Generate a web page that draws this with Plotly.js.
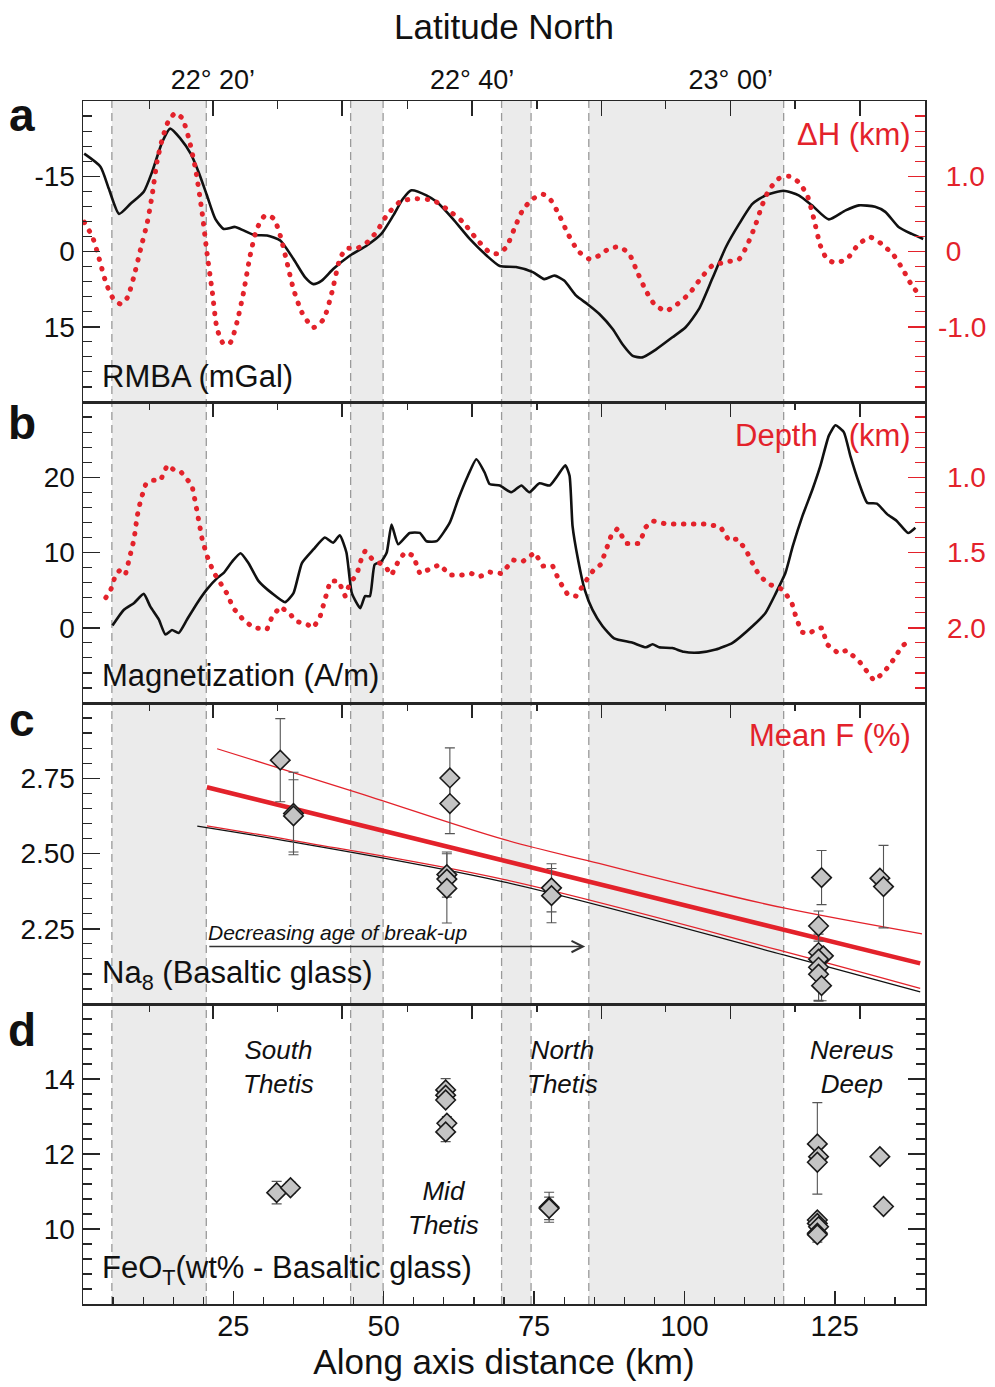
<!DOCTYPE html>
<html>
<head>
<meta charset="utf-8">
<script src="https://cdn.plot.ly/plotly-3.0.1.min.js"></script>
<style>
  html, body { margin: 0; padding: 0; background: #ffffff; }
  #chart { width: 995px; height: 1387px; }
</style>
</head>
<body>
<div id="chart"></div>
<script>
// ---------- Along-axis profiles (distance in km) ----------
const rmbaKm = [0.2, 2.9, 4.3, 6.0, 7.9, 10.1, 11.5, 13.2, 14.5, 16.2,
  17.9, 19.2, 20.6, 22.0, 23.4, 25.3, 26.7, 28.4, 30.6, 32.8,
  35.0, 36.9, 38.3, 39.7, 41.6, 44.4, 47.2, 49.6, 51.6, 53.2,
  54.6, 57.1, 58.8, 61.5, 64.3, 67.1, 69.3, 72.0, 74.8, 76.7,
  78.4, 80.0, 82.0, 83.9, 85.9, 88.1, 89.7, 91.4, 93.0, 95.3,
  98.0, 100.2, 102.4, 104.6, 106.9, 109.1, 111.3, 113.5, 116.5, 119.0,
  121.2, 124.0, 126.8, 129.0, 131.7, 133.4, 135.6, 137.8, 139.7];
const rmba = [-19.5, -16.9, -12.5, -7.5, -9.5, -11.9, -15.9, -21.9, -24.5, -22.5,
  -19.5, -15.9, -11.2, -6.5, -4.5, -4.9, -4.2, -3.3, -3.2, -2.2,
  1.5, 5.1, 6.5, 5.8, 3.5, 0.8, -1.2, -3.5, -7.2, -10.5,
  -12.2, -11.2, -9.9, -6.5, -2.5, 0.8, 2.9, 3.1, 4.1, 5.5,
  4.8, 5.8, 8.8, 10.5, 12.5, 15.5, 18.5, 20.8, 21.1, 19.5,
  17.1, 15.1, 11.5, 5.5, -0.9, -5.5, -9.5, -11.2, -12.1, -11.2,
  -9.2, -6.4, -8.2, -9.2, -8.9, -7.9, -4.9, -3.5, -2.5];

const dhKm = [0.2, 1.6, 2.7, 3.8, 4.9, 6.3, 7.4, 8.5, 9.6, 10.7,
  11.5, 12.3, 13.2, 14.3, 15.4, 16.5, 17.6, 18.7, 19.8, 20.6,
  21.5, 22.3, 23.4, 24.5, 25.6, 26.7, 27.8, 28.9, 30.3, 31.7,
  32.8, 33.9, 35.0, 36.4, 38.3, 40.0, 41.4, 42.7, 43.8, 45.5,
  47.2, 48.8, 50.5, 52.7, 54.9, 58.2, 60.4, 63.2, 65.4, 67.6,
  69.0, 70.4, 71.8, 73.1, 74.8, 76.5, 77.8, 79.2, 80.6, 82.3,
  84.2, 85.9, 87.5, 89.2, 90.8, 92.2, 93.6, 95.0, 96.9, 98.8,
  100.8, 102.7, 104.6, 106.9, 109.1, 110.4, 111.8, 112.9, 114.0, 115.7,
  117.4, 119.0, 120.4, 121.5, 122.6, 123.7, 125.1, 127.0, 129.0, 130.9,
  132.8, 134.8, 136.4, 137.8, 138.9];
const dh = [0.39, 0.19, -0.10, -0.41, -0.61, -0.70, -0.61, -0.32, 0.04, 0.39,
  0.75, 1.19, 1.50, 1.75, 1.84, 1.77, 1.50, 1.10, 0.52, -0.01,
  -0.54, -1.03, -1.23, -1.21, -0.94, -0.54, -0.05, 0.30, 0.48, 0.44,
  0.21, -0.14, -0.50, -0.81, -1.01, -0.90, -0.54, -0.10, 0.04, 0.04,
  0.12, 0.26, 0.48, 0.66, 0.70, 0.68, 0.57, 0.39, 0.17, -0.01,
  -0.03, 0.06, 0.32, 0.55, 0.70, 0.76, 0.68, 0.48, 0.24, 0.01,
  -0.10, -0.05, 0.04, 0.06, -0.03, -0.28, -0.52, -0.70, -0.79, -0.70,
  -0.56, -0.36, -0.19, -0.14, -0.10, 0.08, 0.35, 0.61, 0.81, 0.97,
  1.00, 0.92, 0.75, 0.44, 0.08, -0.10, -0.15, -0.10, 0.10, 0.19,
  0.10, -0.05, -0.25, -0.45, -0.56];

const magKm = [4.9, 6.8, 8.5, 10.1, 11.2, 12.6, 13.7, 14.8, 15.9, 17.3,
  19.0, 20.6, 22.3, 23.4, 24.8, 26.2, 27.5, 29.2, 31.4, 33.6,
  35.0, 36.4, 38.3, 40.2, 41.6, 42.7, 43.8, 44.7, 46.1, 46.9,
  47.7, 48.5, 49.6, 50.5, 51.3, 52.4, 54.3, 56.0, 57.1, 58.8,
  61.0, 62.4, 64.0, 65.4, 66.8, 67.6, 69.3, 71.2, 72.9, 74.2,
  75.9, 77.6, 78.9, 80.2, 80.9, 81.4, 82.3, 83.4, 84.7, 86.4,
  88.3, 91.4, 93.6, 94.7, 95.8, 98.0, 99.9, 102.4, 105.2, 108.0,
  111.3, 113.5, 115.2, 116.8, 118.0, 119.6, 121.3, 122.6, 124.0, 125.1,
  126.5, 127.6, 129.0, 130.4, 132.0, 133.7, 135.3, 137.2, 138.4];
const mag = [0.3, 2.4, 3.3, 4.5, 2.8, 1.1, -0.9, -0.3, -0.7, 1.1,
  3.3, 5.1, 6.6, 7.3, 8.8, 9.9, 8.6, 6.2, 4.6, 3.4,
  4.6, 8.6, 10.4, 12.0, 11.3, 12.3, 10.0, 4.6, 2.6, 4.2,
  4.2, 8.4, 8.8, 10.0, 13.7, 11.1, 12.6, 12.6, 11.5, 11.5,
  14.0, 17.1, 20.2, 22.4, 20.6, 19.1, 18.9, 18.0, 18.9, 18.0,
  19.2, 18.9, 20.2, 21.6, 20.2, 13.5, 9.1, 5.1, 2.4, 0.2,
  -1.4, -2.0, -2.6, -2.2, -2.6, -2.7, -3.2, -3.3, -2.9, -2.0,
  0.2, 2.0, 4.6, 7.3, 10.8, 14.8, 18.4, 21.5, 25.5, 26.9,
  26.0, 22.8, 19.3, 16.6, 16.5, 15.1, 14.2, 12.6, 13.3];

const depthKm = [3.8, 4.6, 5.4, 6.3, 7.1, 7.9, 8.5, 9.0, 9.6, 10.4,
  11.5, 12.9, 14.0, 15.1, 16.2, 17.2, 18.1, 18.7, 19.2, 19.8,
  20.6, 21.7, 22.8, 23.9, 25.0, 26.7, 28.4, 30.6, 31.4, 32.8,
  34.2, 35.6, 36.9, 38.3, 39.4, 40.2, 41.1, 42.5, 43.6, 44.4,
  45.5, 46.3, 46.9, 48.0, 49.4, 50.2, 51.3, 52.4, 53.5, 54.9,
  56.0, 57.7, 59.3, 61.0, 62.9, 64.6, 66.0, 67.6, 69.6, 71.5,
  73.1, 75.1, 76.5, 78.1, 79.2, 80.6, 82.0, 83.6, 85.0, 86.1,
  86.9, 87.8, 88.9, 90.3, 92.5, 93.6, 94.7, 96.9, 99.7, 103.5,
  106.0, 107.4, 108.8, 110.2, 111.3, 112.4, 114.0, 116.0, 116.8, 117.9,
  118.7, 119.6, 120.7, 121.8, 122.9, 123.7, 125.6, 127.0, 129.0, 130.6,
  131.5, 133.1, 134.8, 136.2, 137.8];
const depth = [1.80, 1.75, 1.65, 1.61, 1.64, 1.52, 1.41, 1.26, 1.15, 1.05,
  1.02, 1.02, 0.92, 0.95, 0.96, 1.01, 1.05, 1.17, 1.28, 1.41,
  1.52, 1.63, 1.70, 1.77, 1.87, 1.95, 2.00, 2.01, 1.93, 1.86,
  1.90, 1.96, 1.97, 2.00, 1.93, 1.82, 1.69, 1.69, 1.79, 1.70,
  1.65, 1.54, 1.49, 1.54, 1.57, 1.59, 1.65, 1.56, 1.50, 1.52,
  1.64, 1.61, 1.58, 1.65, 1.65, 1.64, 1.66, 1.63, 1.64, 1.55,
  1.56, 1.50, 1.59, 1.59, 1.69, 1.78, 1.79, 1.69, 1.61, 1.58,
  1.48, 1.39, 1.34, 1.44, 1.44, 1.33, 1.29, 1.31, 1.31, 1.31,
  1.33, 1.42, 1.41, 1.48, 1.57, 1.65, 1.71, 1.74, 1.77, 1.84,
  1.95, 2.03, 2.04, 2.01, 2.00, 2.11, 2.17, 2.15, 2.22, 2.31,
  2.35, 2.30, 2.21, 2.12, 2.08];

// ---------- Basaltic glass samples ----------
const na8Km = [32.8, 35.0, 35.0, 61.0, 61.0, 60.5, 60.5, 60.5, 77.9, 77.9,
  122.8, 122.3, 122.3, 123.1, 122.3, 122.3, 122.3, 122.8, 132.5, 133.1];
const na8 = [2.81, 2.633, 2.625, 2.751, 2.666, 2.43, 2.415, 2.384, 2.386, 2.36,
  2.42, 2.259, 2.171, 2.16, 2.149, 2.122, 2.099, 2.061, 2.418, 2.39];
const na8Err = [0.138, 0.137, 0.12, 0.1, 0.1, 0.075, 0, 0.115, 0.08, 0.09,
  0.09, 0.05, 0, 0, 0, 0.11, 0.09, 0.05, 0, 0.137];

// FeO_T: Thetis deeps (South, Mid, North)
const feoThetisKm = [32.2, 34.5, 60.3, 60.3, 60.3, 60.5, 60.3, 77.5, 77.5];
const feoThetis = [10.97, 11.10, 13.71, 13.57, 13.44, 12.82, 12.59, 10.58, 10.55];
const feoThetisErr = [0.3, 0.15, 0.3, 0, 0.1, 0.18, 0.26, 0.4, 0.3];
// FeO_T: Nereus Deep and the northern end
const feoNereusKm = [122.1, 122.3, 122.1, 122.1, 122.1, 122.3, 122.1, 122.1, 132.5, 133.1];
const feoNereus = [12.27, 11.93, 11.78, 10.24, 10.15, 10.06, 9.89, 9.85, 11.93, 10.60];
const feoNereusErrUp = [1.1, 0, 0, 0.13, 0, 0, 0, 0.2, 0, 0];
const feoNereusErrDown = [1.34, 0, 0, 0.13, 0, 0, 0, 0.2, 0, 0];

// Mean-F trend and bounds, expressed on the Na8 scale
const fitKm = [20.6, 139.2];
const fitNa8 = [2.72, 2.135];
const upperKm = [22.3, 46.0, 70.1, 85.8, 100.0, 116.5, 139.5];
const upperNa8 = [2.848, 2.70, 2.546, 2.467, 2.396, 2.319, 2.233];
const lowerKm = [20.6, 35.0, 70.1, 116.5, 139.2];
const lowerNa8 = [2.592, 2.543, 2.413, 2.175, 2.052];
const naTrendKm = [19.0, 35.0, 70.1, 116.5, 139.2];
const naTrend = [2.591, 2.538, 2.405, 2.163, 2.040];

// Break-up age arrow (km along axis, Na8 level)
const arrowKm = [20.5, 83.5];
const arrowNa8 = 2.191;

// ---------- Segments (shaded) and axis labels ----------
const bandStart = [4.8, 44.5, 69.6, 84.1];
const bandEnd = [20.5, 49.9, 74.5, 116.5];

const latTickKm = [21.6, 43.1, 64.7, 86.2, 107.7, 129.2];
const latTickText = ['22° 20’', ' ', '22° 40’', ' ', '23° 00’', ' '];
const latMinorKm = [11.0, 32.4, 53.9, 75.5, 96.9, 118.4];
const distTicks = [25, 50, 75, 100, 125];

// ---------- Styling ----------
const FONT = 'Liberation Sans, Arial, Helvetica, sans-serif';
const RED = '#e3222b';
const INK = '#111111';
const AX = '#262626';
const W = 995, H = 1387;
const M = { l: 83, r: 70, t: 101, b: 83 };
const plotW = W - M.l - M.r, plotH = H - M.t - M.b;
const px2x = p => (p - M.l) / plotW;
const px2y = p => (H - M.b - p) / plotH;

const domA = [px2y(402), 1];
const domB = [px2y(703), px2y(402)];
const domC = [px2y(1004), px2y(703)];
const domD = [0, px2y(1004)];

const base = { showgrid: false, zeroline: false, fixedrange: true, linecolor: AX, linewidth: 1.5 };

function latAxis(anchor, labels) {
  return Object.assign({}, base, {
    domain: [0, 1], range: [0, 140], anchor: anchor, side: 'top',
    showline: true, mirror: true,
    tickmode: 'array', tickvals: latTickKm, ticktext: latTickText,
    ticks: 'inside', ticklen: 15, tickwidth: 1.5, tickcolor: AX,
    showticklabels: labels, tickfont: { size: 27, color: INK },
    minor: { tickmode: 'array', tickvals: latMinorKm, ticks: 'inside', ticklen: 8, tickwidth: 1.2, tickcolor: AX }
  });
}
function leftY(domain, range, vals, text, minorDtick, anchor, mirror) {
  return Object.assign({}, base, {
    domain: domain, range: range, anchor: anchor, side: 'left', showline: true, mirror: mirror,
    tickmode: 'array', tickvals: vals, ticktext: text,
    ticks: 'inside', ticklen: 17, tickwidth: 1.5, tickcolor: AX,
    tickfont: { size: 28, color: INK }, ticklabelstandoff: 1,
    minor: { tickmode: 'linear', tick0: 0, dtick: minorDtick, ticks: 'inside', ticklen: 9, tickwidth: 1.2, tickcolor: AX }
  });
}
function rightY(overlay, anchor, range, vals, text, minorDtick, standoff) {
  return Object.assign({}, base, {
    overlaying: overlay, anchor: anchor, side: 'right', range: range, showline: false,
    tickmode: 'array', tickvals: vals, ticktext: text,
    ticks: 'inside', ticklen: 17, tickwidth: 1.5, tickcolor: RED,
    tickfont: { size: 28, color: RED }, ticklabelstandoff: standoff,
    minor: { tickmode: 'linear', tick0: 0, dtick: minorDtick, ticks: 'inside', ticklen: 10, tickwidth: 1.2, tickcolor: RED }
  });
}

const dotted = { color: RED, width: 5, dash: '0.5px,9.5px' };
const diamond = { symbol: 'diamond', size: 15, color: '#c4c4c4', line: { color: '#1a1a1a', width: 1.6 } };
const errStyle = { type: 'data', color: '#555555', thickness: 1.1, width: 5 };

const traces = [
  // a: RMBA and along-axis relief
  { x: dhKm, y: dh, xaxis: 'x', yaxis: 'y2', mode: 'lines', line: Object.assign({ shape: 'spline', smoothing: 0.6 }, dotted) },
  { x: rmbaKm, y: rmba, xaxis: 'x', yaxis: 'y', mode: 'lines', line: { color: INK, width: 2.6, shape: 'spline', smoothing: 0.6 } },
  // b: magnetization and axial depth
  { x: depthKm, y: depth, xaxis: 'x2', yaxis: 'y4', mode: 'lines', line: dotted },
  { x: magKm, y: mag, xaxis: 'x2', yaxis: 'y3', mode: 'lines', line: { color: INK, width: 2.6, shape: 'spline', smoothing: 0.5 } },
  // c: Na8 trends and samples
  { x: upperKm, y: upperNa8, xaxis: 'x3', yaxis: 'y5', mode: 'lines', line: { color: RED, width: 1.3, shape: 'spline' } },
  { x: lowerKm, y: lowerNa8, xaxis: 'x3', yaxis: 'y5', mode: 'lines', line: { color: RED, width: 1.3, shape: 'spline' } },
  { x: naTrendKm, y: naTrend, xaxis: 'x3', yaxis: 'y5', mode: 'lines', line: { color: INK, width: 1.3, shape: 'spline' } },
  { x: fitKm, y: fitNa8, xaxis: 'x3', yaxis: 'y5', mode: 'lines', line: { color: RED, width: 4.5 } },
  { x: na8Km, y: na8, xaxis: 'x3', yaxis: 'y5', mode: 'markers', marker: diamond,
    error_y: Object.assign({ array: na8Err }, errStyle) },
  // d: FeO samples (Thetis deeps on the latitude axis, Nereus on the distance axis; same scale)
  { x: feoThetisKm, y: feoThetis, xaxis: 'x4', yaxis: 'y7', mode: 'markers', marker: diamond,
    error_y: Object.assign({ array: feoThetisErr }, errStyle) },
  { x: feoNereusKm, y: feoNereus, xaxis: 'x5', yaxis: 'y7', mode: 'markers', marker: diamond,
    error_y: Object.assign({ symmetric: false, array: feoNereusErrUp, arrayminus: feoNereusErrDown }, errStyle) }
];
traces.forEach(t => { t.showlegend = false; t.hoverinfo = 'skip'; });

// Shaded segments with dashed borders across all panels
const shapes = [];
bandStart.forEach((s, i) => {
  shapes.push({ type: 'rect', xref: 'x', yref: 'paper', x0: s, x1: bandEnd[i], y0: 0, y1: 1,
    fillcolor: '#ebebeb', line: { width: 0 }, layer: 'below' });
  [s, bandEnd[i]].forEach(v => shapes.push({ type: 'line', xref: 'x', yref: 'paper', x0: v, x1: v, y0: 0, y1: 1,
    line: { color: '#9a9a9a', width: 1.3, dash: '8px,5px' }, layer: 'below' }));
});

function label(text, xp, yp, opts) {
  return Object.assign({ text: text, xref: 'paper', yref: 'paper', x: px2x(xp), y: px2y(yp),
    showarrow: false, xanchor: 'left', yanchor: 'middle',
    font: { family: FONT, size: 31, color: INK } }, opts || {});
}
const italic = (t, xp, yp) => label(t, xp, yp, { xanchor: 'center', align: 'center',
  font: { family: FONT, size: 26, color: INK, style: 'italic' } });
const letter = (t, yp) => label(t, 22, yp, { xanchor: 'center', font: { family: FONT, size: 46, color: INK, weight: 'bold' } });

const annotations = [
  letter('a', 115), letter('b', 423), letter('c', 720), letter('d', 1030),
  label('RMBA (mGal)', 100, 376),
  label('Magnetization (A/m)', 100, 675),
  label('Na<sub>8</sub> (Basaltic glass)', 100, 975),
  label('FeO<sub>T</sub>(wt% - Basaltic glass)', 100, 1270),
  label('ΔH (km)', 913, 135, { xanchor: 'right', font: { family: FONT, size: 31, color: RED } }),
  label('Depth\u2003(km)', 913, 435, { xanchor: 'right', font: { family: FONT, size: 31, color: RED } }),
  label('Mean F (%)', 913, 735, { xanchor: 'right', font: { family: FONT, size: 31, color: RED } }),
  italic('South<br>Thetis', 278, 1067),
  italic('Mid<br>Thetis', 443, 1208),
  italic('North<br>Thetis', 562, 1067),
  italic('Nereus<br>Deep', 852, 1067),
  { text: 'Decreasing age of break-up', xref: 'x3', yref: 'y5', x: arrowKm[0], y: arrowNa8 + 0.047,
    xanchor: 'left', yanchor: 'middle', showarrow: false,
    font: { family: FONT, size: 21, color: INK, style: 'italic' } },
  { text: ' ', xref: 'x3', yref: 'y5', axref: 'x3', ayref: 'y5',
    x: arrowKm[1], y: arrowNa8, ax: arrowKm[0], ay: arrowNa8,
    showarrow: true, arrowhead: 5, arrowsize: 1.7, arrowwidth: 1.3, arrowcolor: '#333333' }
];

const layout = {
  width: W, height: H, margin: M,
  paper_bgcolor: '#ffffff', plot_bgcolor: 'rgba(0,0,0,0)',
  font: { family: FONT, color: INK },
  showlegend: false, hovermode: false,
  xaxis: Object.assign(latAxis('y', true), {
    title: { text: 'Latitude North', font: { size: 35, color: INK }, standoff: 14 } }),
  xaxis2: latAxis('y3', false),
  xaxis3: latAxis('y5', false),
  xaxis4: latAxis('y7', false),
  xaxis5: Object.assign({}, base, {
    overlaying: 'x4', anchor: 'y7', side: 'bottom', range: [0, 140], showline: true,
    tickmode: 'array', tickvals: distTicks,
    ticks: 'inside', ticklen: 13, tickwidth: 1.5, tickcolor: AX,
    tickfont: { size: 29, color: INK }, ticklabelstandoff: -4,
    minor: { tickmode: 'linear', tick0: 0, dtick: 5, ticks: 'inside', ticklen: 7, tickwidth: 1.2, tickcolor: AX },
    title: { text: 'Along axis distance (km)', font: { size: 35, color: INK }, standoff: 5 } }),
  yaxis: leftY(domA, [30, -30], [-15, 0, 15], ['-15', '0', '15'], 3, 'x', true),
  yaxis2: rightY('y', 'x', [-2, 2], [-1, 0, 1], ['-1.0', '\u20080', '\u20081.0'], 0.2, 12),
  yaxis3: leftY(domB, [-10, 30], [0, 10, 20], ['0', '10', '20'], 2, 'x2', true),
  yaxis4: rightY('y3', 'x2', [2.5, 0.5], [1, 1.5, 2], ['1.0', '1.5', '2.0'], 0.1, 21),
  yaxis5: leftY(domC, [2.0, 3.0], [2.25, 2.5, 2.75], ['2.25', '2.50', '2.75'], 0.05, 'x3', true),
  yaxis6: rightY('y5', 'x3', [9.61, 5.99], [7, 8, 9], ['7.0', '8.0', '9.0'], 0.2, 21),
  yaxis7: leftY(domD, [8, 16], [10, 12, 14], ['10', '12', '14'], 0.4, 'x4', 'ticks'),
  shapes: shapes,
  annotations: annotations
};

Plotly.newPlot('chart', traces, layout, { staticPlot: true, displayModeBar: false }).then(gd => {
  // round caps turn the short dashes into dots
  gd.querySelectorAll('path.js-line').forEach(p => {
    const d = p.style.strokeDasharray;
    if (d && d !== 'none') p.style.strokeLinecap = 'round';
  });
});
</script>
</body>
</html>
